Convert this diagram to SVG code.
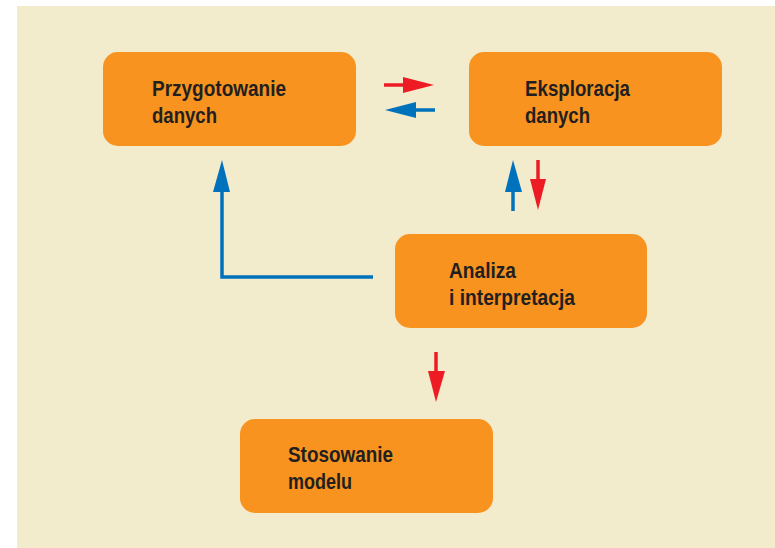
<svg xmlns="http://www.w3.org/2000/svg" width="775" height="548" viewBox="0 0 775 548">
<style>
.box{fill:#F7931E}
.t{font-family:"Liberation Sans",Arial,sans-serif;font-weight:bold;font-size:22px;fill:#231F20}
.r{stroke:#ED1C24;stroke-width:3.5;fill:none}
.b{stroke:#0072BC;stroke-width:3.5;fill:none}
.rh{fill:#ED1C24}
.bh{fill:#0072BC}
</style>
<rect x="0" y="0" width="775" height="548" fill="#ffffff"/>
<rect x="17" y="6" width="758" height="542" fill="#F2EBCC"/>
<g id="przygotowanie">
<rect class="box" x="103" y="52" width="253" height="94" rx="15"/>
<text class="t" x="152" y="96" textLength="134" lengthAdjust="spacingAndGlyphs">Przygotowanie</text>
<text class="t" x="152" y="123" textLength="65" lengthAdjust="spacingAndGlyphs">danych</text>
</g>
<g id="eksploracja">
<rect class="box" x="469" y="52" width="253" height="94" rx="15"/>
<text class="t" x="525" y="96" textLength="105" lengthAdjust="spacingAndGlyphs">Eksploracja</text>
<text class="t" x="525" y="123" textLength="65" lengthAdjust="spacingAndGlyphs">danych</text>
</g>
<g id="analiza">
<rect class="box" x="395" y="234" width="252" height="94" rx="15"/>
<text class="t" x="449" y="278" textLength="67" lengthAdjust="spacingAndGlyphs">Analiza</text>
<text class="t" x="449" y="305" textLength="126" lengthAdjust="spacingAndGlyphs">i interpretacja</text>
</g>
<g id="stosowanie">
<rect class="box" x="240" y="419" width="253" height="94" rx="15"/>
<text class="t" x="288" y="462" textLength="105" lengthAdjust="spacingAndGlyphs">Stosowanie</text>
<text class="t" x="288" y="489" textLength="64" lengthAdjust="spacingAndGlyphs">modelu</text>
</g>
<g id="connectors">
<line class="r" x1="384" y1="85" x2="405" y2="85"/>
<polygon class="rh" points="403,77 434,85 403,93"/>
<line class="b" x1="435" y1="110" x2="414" y2="110"/>
<polygon class="bh" points="416,102 385,110 416,118"/>
<line class="b" x1="513" y1="211" x2="513" y2="190"/>
<polygon class="bh" points="505,192 513,160 522,192"/>
<line class="r" x1="538" y1="160" x2="538" y2="181"/>
<polygon class="rh" points="530,179 538,210 546,179"/>
<polyline class="b" points="373,277 222,277 222,190"/>
<polygon class="bh" points="213,192 222,160 230,192"/>
<line class="r" x1="436" y1="352" x2="436" y2="373"/>
<polygon class="rh" points="428,371 436,402 445,371"/>
</g>
</svg>
